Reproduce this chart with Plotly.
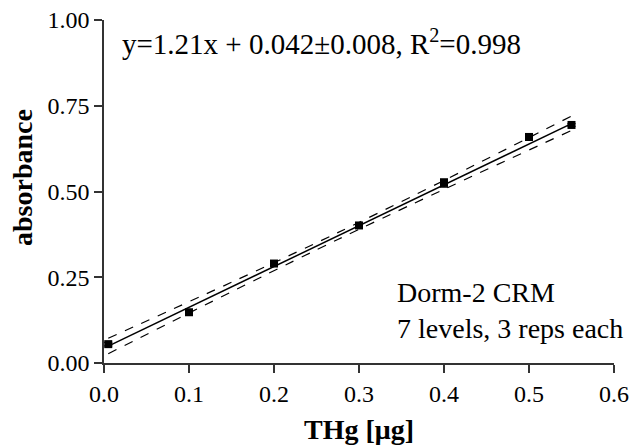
import plotly.graph_objects as go

# Data
thg_ug = [0.005, 0.1, 0.2, 0.3, 0.4, 0.5, 0.55]
absorbance = [0.055, 0.148, 0.290, 0.401, 0.525, 0.659, 0.694]
abs_err = [0.005, 0.005, 0.005, 0.005, 0.012, 0.010, 0.004]

fit_x = [0.005, 0.55]
fit_y = [0.049, 0.698]

band_x = [0.005, 0.275, 0.55]
band_upper = [0.072, 0.380, 0.720]
band_lower = [0.027, 0.360, 0.678]

x_ticks = [0.0, 0.1, 0.2, 0.3, 0.4, 0.5, 0.6]
y_ticks = [0.00, 0.25, 0.50, 0.75, 1.00]

FONT = "Liberation Serif"

fig = go.Figure()

fig.add_trace(go.Scatter(x=band_x, y=band_upper, mode="lines",
                         line=dict(color="black", width=1.2, dash="dash", shape="spline"),
                         showlegend=False, hoverinfo="skip"))
fig.add_trace(go.Scatter(x=band_x, y=band_lower, mode="lines",
                         line=dict(color="black", width=1.2, dash="dash", shape="spline"),
                         showlegend=False, hoverinfo="skip"))
fig.add_trace(go.Scatter(x=fit_x, y=fit_y, mode="lines",
                         line=dict(color="black", width=1.5),
                         showlegend=False, hoverinfo="skip"))
fig.add_trace(go.Scatter(x=thg_ug, y=absorbance, mode="markers",
                         marker=dict(symbol="square", size=8, color="black"),
                         error_y=dict(type="data", array=abs_err, visible=True,
                                      color="black", thickness=1.2, width=4),
                         showlegend=False))

fig.update_layout(
    width=630, height=448,
    margin=dict(l=104, r=16, t=20, b=85),
    paper_bgcolor="white", plot_bgcolor="white",
    font=dict(family=FONT, color="black", size=24),
    xaxis=dict(range=[0, 0.6], tickvals=x_ticks,
               ticktext=[f"{v:.1f}" for v in x_ticks],
               showgrid=False, zeroline=False, showline=True,
               linecolor="#333", linewidth=1.5, automargin=False,
               ticks="outside", ticklen=8, tickwidth=1.5, tickcolor="#333",
               tickfont=dict(family=FONT, size=24)),
    yaxis=dict(range=[0, 1.0], tickvals=y_ticks,
               ticktext=[f"{v:.2f}" for v in y_ticks],
               showgrid=False, zeroline=False, showline=True,
               linecolor="#333", linewidth=1.5, automargin=False,
               ticks="outside", ticklen=8, tickwidth=1.5, tickcolor="#333",
               tickfont=dict(family=FONT, size=24)),
    annotations=[
        dict(text="<b>THg [μg]</b>", xref="paper", yref="paper",
             x=0.5, y=-0.195, xanchor="center", yanchor="middle",
             showarrow=False, font=dict(family=FONT, size=28)),
        dict(text="<b>absorbance</b>", xref="paper", yref="paper",
             x=-0.161, y=0.542, xanchor="center", yanchor="middle",
             textangle=-90, showarrow=False, font=dict(family=FONT, size=28)),
        dict(text="y=1.21x + 0.042±0.008, R<sup>2</sup>=0.998",
             xref="paper", yref="paper", x=0.031, y=0.936,
             xanchor="left", yanchor="middle", showarrow=False,
             font=dict(family=FONT, size=29)),
        dict(text="Dorm-2 CRM<br>7 levels, 3 reps each",
             xref="x", yref="y", x=0.342, y=0.152,
             xanchor="left", yanchor="middle", align="left", showarrow=False,
             font=dict(family=FONT, size=28)),
    ],
)

fig.write_html("out.html",
               config={"displayModeBar": False},
               post_script="document.body.style.margin='0';document.body.style.padding='0';")
